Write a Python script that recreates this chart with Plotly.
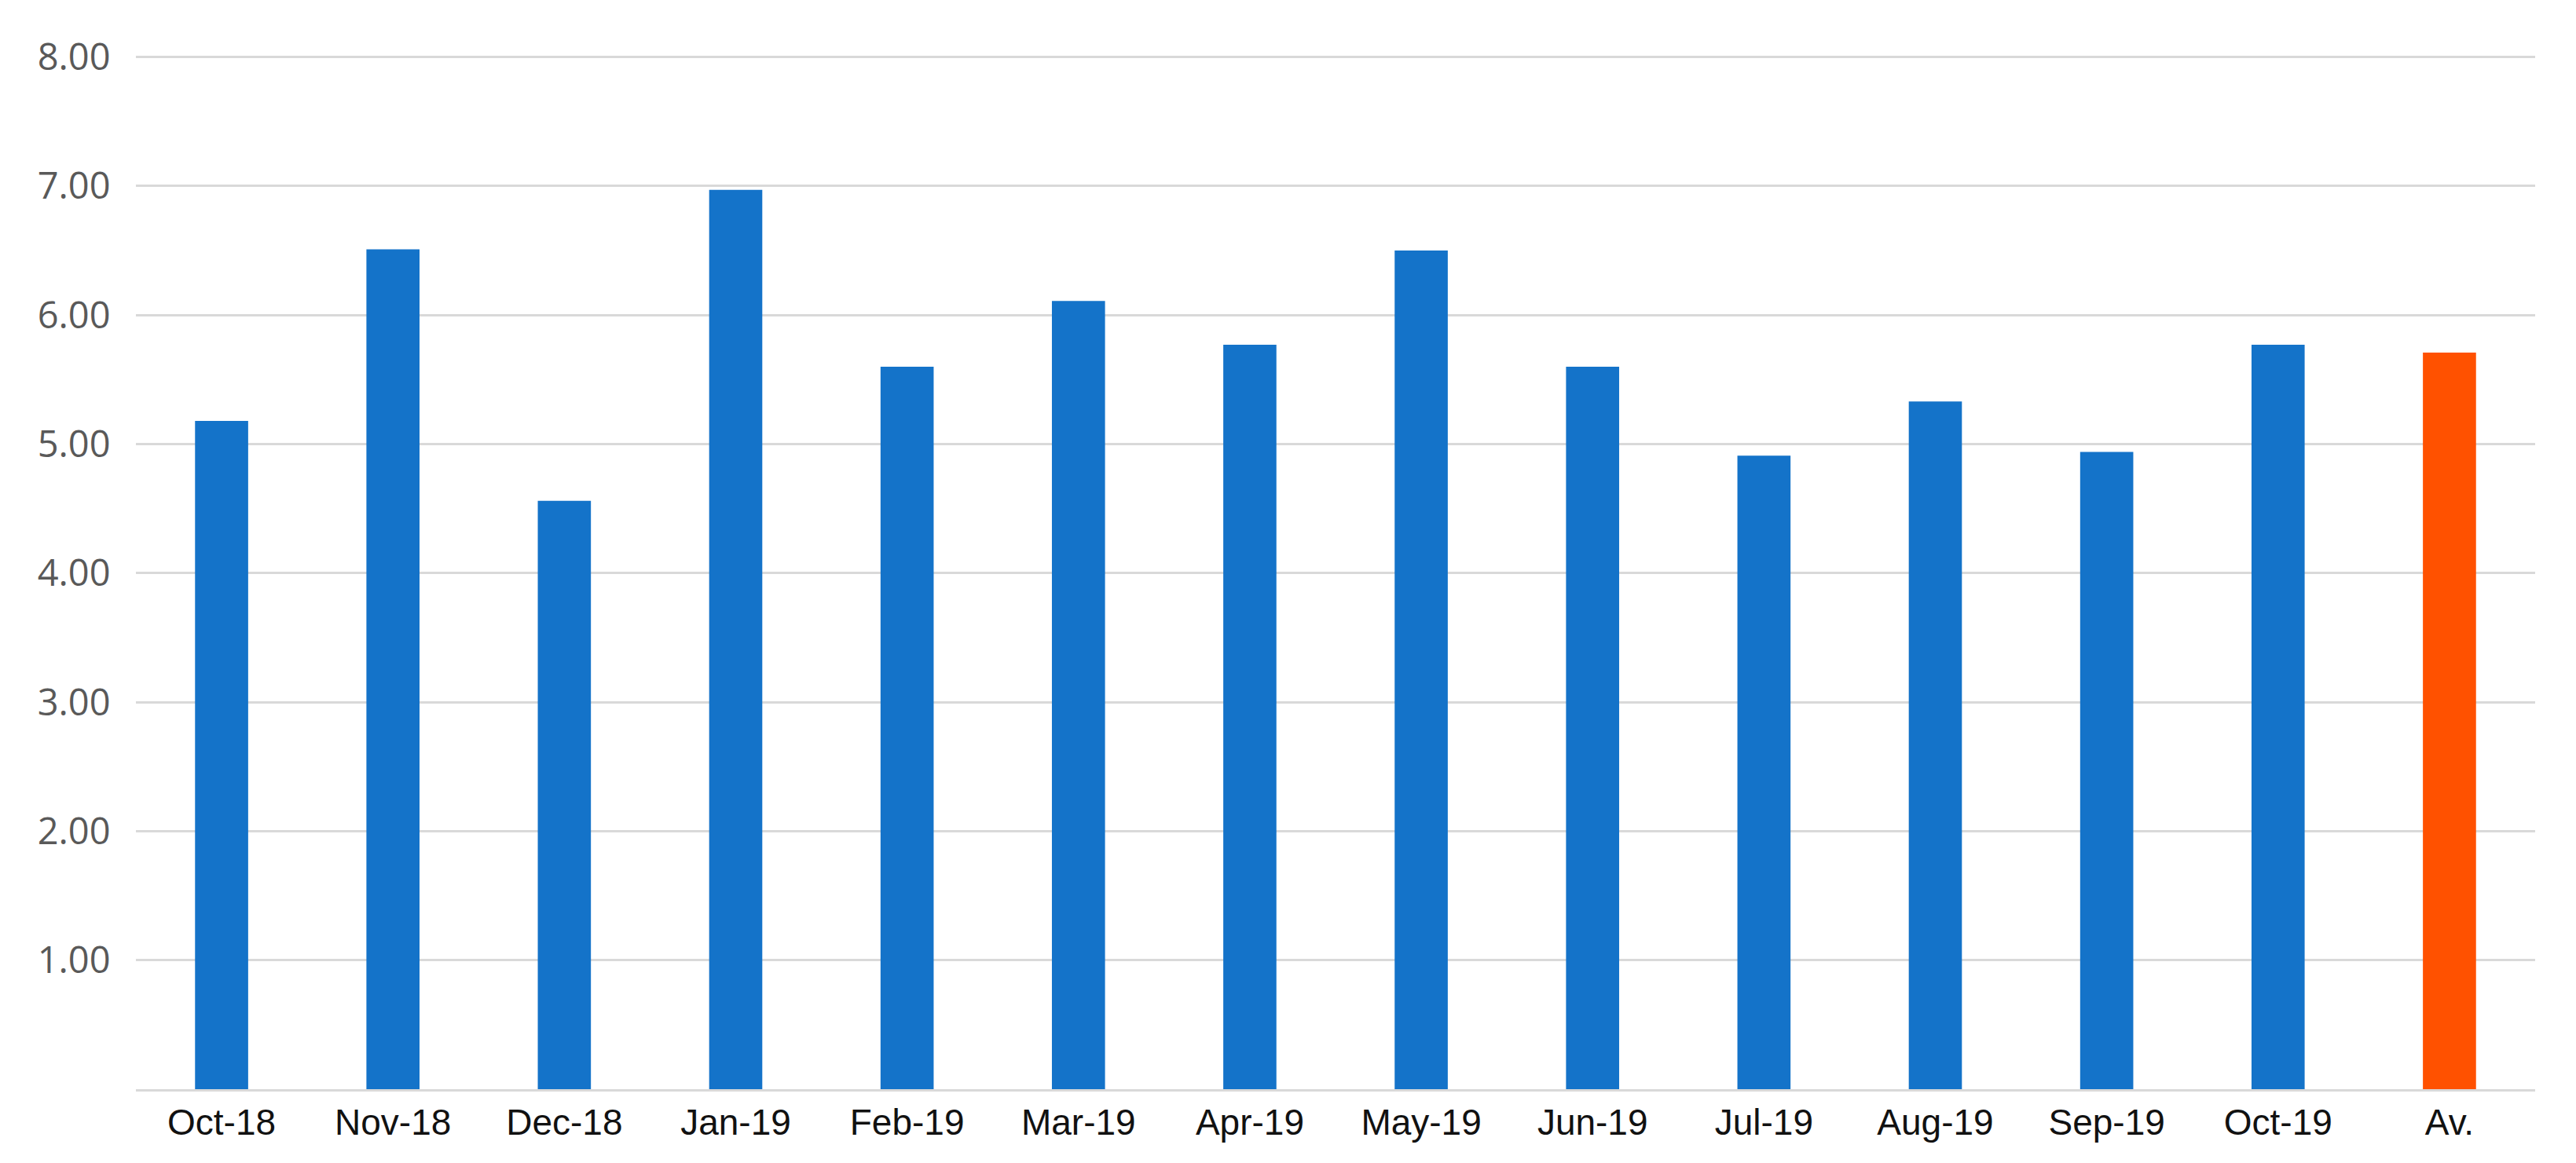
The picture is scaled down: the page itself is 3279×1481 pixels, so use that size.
import plotly.graph_objects as go

categories = ["Oct-18", "Nov-18", "Dec-18", "Jan-19", "Feb-19", "Mar-19", "Apr-19",
              "May-19", "Jun-19", "Jul-19", "Aug-19", "Sep-19", "Oct-19", "Av."]
values = [5.18, 6.51, 4.56, 6.97, 5.60, 6.11, 5.77, 6.50, 5.60, 4.91, 5.33, 4.94, 5.77, 5.71]
bar_colors = ["#1473C9"] * 13 + ["#FF5100"]
y_ticks = [1, 2, 3, 4, 5, 6, 7, 8]
y_tick_labels = ["1.00", "2.00", "3.00", "4.00", "5.00", "6.00", "7.00", "8.00"]

fig = go.Figure(go.Bar(x=categories, y=values, marker=dict(color=bar_colors, line=dict(width=0)),
                       width=0.31))

fig.update_layout(
    width=3263, height=1465,
    margin=dict(l=165, r=44, t=63, b=86),
    paper_bgcolor="white", plot_bgcolor="white",
    showlegend=False,
    xaxis=dict(
        tickfont=dict(family="Liberation Sans, Arial", size=46, color="#111111"),
        showgrid=False, showline=True, linecolor="#D9D9D9", linewidth=3,
        ticks="", ticklen=0,
    ),
    yaxis=dict(
        range=[0, 8.01], tickvals=y_ticks, ticktext=y_tick_labels,
        tickfont=dict(family="Open Sans, Noto Sans, sans-serif", size=47, color="#595959"),
        showgrid=True, gridcolor="#D9D9D9", gridwidth=3,
        zeroline=False, showline=False, ticks="outside", ticklen=22, tickcolor="rgba(0,0,0,0)",
    ),
)

fig.write_html("out.html")
